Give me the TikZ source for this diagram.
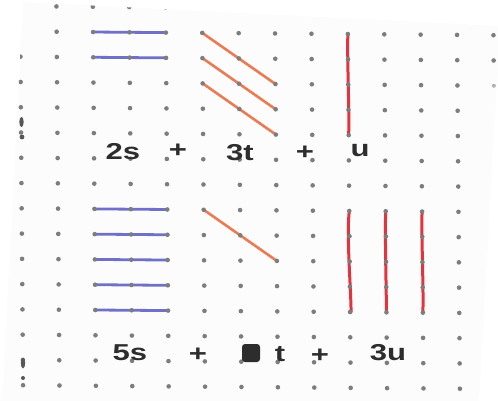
\documentclass[tikz,border=0pt]{standalone}
\usepackage{fontspec}
\setmainfont{Liberation Sans}
\usetikzlibrary{calc}
\definecolor{dotc}{RGB}{125,125,125}
\definecolor{bluel}{RGB}{112,112,200}
\definecolor{orangel}{RGB}{236,122,82}
\definecolor{redl}{RGB}{226,52,62}
\definecolor{ink}{RGB}{45,45,45}
\definecolor{paper}{RGB}{252,252,252}
\tikzset{
  gdot/.style={fill=dotc},
  sline/.style={bluel, line width=2.8pt, line cap=round},
  tline/.style={orangel, line width=2.6pt, line cap=round},
  uline/.style={redl, line width=3pt, line cap=round},
  hand/.style={font=\fontsize{23}{25}\selectfont\bfseries, text=ink, inner sep=0pt, xscale=1.35, transform shape},
}
\begin{document}
\begin{tikzpicture}[x=1pt,y=-1pt]
\useasboundingbox (0,0) rectangle (498,400);
% page
\fill[paper] (23,2) -- (500,26) -- (479,402) -- (0,402) -- (3,383) -- cycle;
% grid coordinates
\foreach \i in {0,...,13} {
  \foreach \j in {0,...,15} {
    \coordinate (p\i-\j) at ({20+36.4*\i+0.008*(6+25.27*\j)},{6+25.27*\j+0.008*(20+36.4*\i)});
  }
}
% s lines
\foreach \j in {1,2,8,9,10,11,12} { \draw[sline] (p2-\j) -- (p4-\j); }
% t lines
\foreach \j/\k in {1/3,2/4,3/5,8/10} { \draw[tline] (p5-\j) -- (p7-\k); }
% u lines
\draw[uline] (p9-1) .. controls ($(p9-2)+(-1,0)$) and ($(p9-4)+(1,0)$) .. (p9-5);
\draw[uline] (p9-8) .. controls ($(p9-9)+(-3,0)$) and ($(p9-11)+(1,0)$) .. ($(p9-12)+(1,0)$);
\draw[uline] (p10-8) .. controls ($(p10-9)+(-1,0)$) and ($(p10-11)+(0,0)$) .. (p10-12);
\draw[uline] (p11-8) .. controls ($(p11-9)+(-1,0)$) and ($(p11-11)+(1,0)$) .. (p11-12);
% dots
\begin{scope}
\clip (23,2) -- (500,26) -- (479,402) -- (0,402) -- (3,383) -- cycle;
\foreach \i in {0,...,12} {
  \foreach \j in {0,...,15} {
    \ifnum\i=0 \ifnum\j=1 \else \fill[gdot] (p\i-\j) circle (2.3); \fi
    \else \fill[gdot] (p\i-\j) circle (2.3); \fi
  }
}
\foreach \j in {1,2} { \fill[gdot] (p13-\j) circle (2.3); }
\fill[dotc!60] (p13-3) circle (2);
\end{scope}
% stray marks
\fill[ink!80] (21.5,122) ellipse (2.2 and 5);
\fill[ink!80] (22,137) circle (2.4);
\fill[ink!80] (23,363) ellipse (2.2 and 5.5);
\fill[ink!80] (23,378) circle (2);
% texts
\node[hand] (a1) at (123,152) {2s};
\node[hand] (a2) at (178,151) {+};
\node[hand] (a3) at (240,153) {3t};
\node[hand] (a4) at (305,153) {+};
\node[hand] (a5) at (360,151) {u};
\node[hand] (b1) at (130,353) {5s};
\node[hand] (b2) at (198,355) {+};
\node[fill=ink, rounded corners=3pt, minimum width=18pt, minimum height=18pt, inner sep=0pt] (b3) at (251,353) {};
\node[hand] (b4) at (280,354) {t};
\node[hand] (b5) at (320,356) {+};
\node[hand] (b6) at (388,353) {3u};
\end{tikzpicture}
\end{document}
